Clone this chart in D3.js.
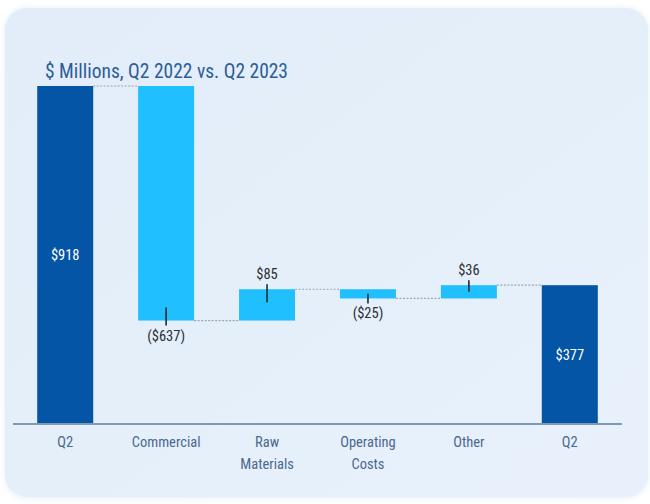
<!DOCTYPE html>
<html>
<head>
<meta charset="utf-8">
<script src="https://cdn.jsdelivr.net/npm/d3@7/dist/d3.min.js"></script>
<style>
  html, body { margin: 0; padding: 0; background: #ffffff; }
  svg { display: block; }
</style>
</head>
<body>
<svg id="chart" width="650" height="504"></svg>
<script>
// Waterfall bridge: Q2 2022 to Q2 2023, $ millions
const categories = ["Q2", "Commercial", "Raw\nMaterials", "Operating\nCosts", "Other", "Q2"];
const values = [918, -637, 85, -25, 36, 377];
const kinds = ["total", "delta", "delta", "delta", "delta", "total"];
const valueLabels = ["$918", "($637)", "$85", "($25)", "$36", "$377"];
const titleText = "$ Millions, Q2 2022 vs. Q2 2023";

const svg = d3.select("#chart");
const font = "'Liberation Sans Narrow', 'Roboto Condensed', 'Liberation Sans', sans-serif";

// background panel
const defs = svg.append("defs");
const grad = defs.append("linearGradient").attr("id", "panelGrad")
  .attr("x1", "0").attr("y1", "0").attr("x2", "1").attr("y2", "1");
grad.append("stop").attr("offset", "0").attr("stop-color", "#e2edf9");
grad.append("stop").attr("offset", "1").attr("stop-color", "#e8f1fb");
const blur = defs.append("filter").attr("id", "soft").attr("x", "-5%").attr("y", "-5%")
  .attr("width", "110%").attr("height", "110%");
blur.append("feGaussianBlur").attr("stdDeviation", 3);

svg.append("rect").attr("x", 5).attr("y", 8).attr("width", 643).attr("height", 490)
  .attr("rx", 22).attr("fill", "#d6e2ee").attr("filter", "url(#soft)").attr("opacity", 0.6);
svg.append("rect").attr("x", 5).attr("y", 8).attr("width", 643).attr("height", 489)
  .attr("rx", 22).attr("fill", "url(#panelGrad)");

// running start/end for each bar
let running = 0;
const bars = values.map((v, i) => {
  let y0, y1;
  if (kinds[i] === "total") { y0 = 0; y1 = v; running = v; }
  else { y0 = running; y1 = running + v; running = y1; }
  return { i, cat: categories[i], v, y0, y1, kind: kinds[i], label: valueLabels[i] };
});

const x = d3.scaleBand().domain(d3.range(categories.length))
  .range([15, 620]).paddingInner(0.445).paddingOuter(0.22);
const y = d3.scaleLinear().domain([0, 918]).range([424, 86]);

const g = svg.append("g");

// connectors
bars.slice(0, -1).forEach((b, k) => {
  const nb = bars[k + 1];
  g.append("line")
    .attr("x1", x(b.i) + x.bandwidth()).attr("x2", x(nb.i))
    .attr("y1", y(b.y1)).attr("y2", y(b.y1))
    .attr("stroke", "#9aa7b4").attr("stroke-width", 1.2)
    .attr("stroke-dasharray", "2,1.5");
});

// bars
g.selectAll("rect.bar").data(bars).enter().append("rect")
  .attr("class", "bar")
  .attr("x", d => x(d.i))
  .attr("width", x.bandwidth())
  .attr("y", d => y(Math.max(d.y0, d.y1)))
  .attr("height", d => Math.abs(y(d.y0) - y(d.y1)))
  .attr("fill", d => d.kind === "total" ? "#0455a6" : "#20bffd");

// end ticks on change bars
bars.filter(d => d.kind === "delta").forEach(d => {
  const dir = d.v >= 0 ? -1 : 1;
  const yEnd = y(d.y1);
  const h = Math.abs(y(d.y0) - y(d.y1));
  const inside = Math.min(13, h * 0.5);
  const cx = x(d.i) + x.bandwidth() / 2;
  g.append("line").attr("x1", cx).attr("x2", cx)
    .attr("y1", yEnd - dir * inside).attr("y2", yEnd + dir * 5)
    .attr("stroke", "#1d2a36").attr("stroke-width", 1.6);
});

// value labels
g.selectAll("text.val").data(bars).enter().append("text")
  .attr("class", "val")
  .attr("x", d => x(d.i) + x.bandwidth() / 2)
  .attr("y", d => {
    if (d.kind === "total") return (y(0) + y(d.y1)) / 2 + 5;
    return d.v >= 0 ? y(d.y1) - 10 : y(d.y1) + 20;
  })
  .attr("text-anchor", "middle")
  .attr("font-family", font).attr("font-size", 14.5)
  .attr("fill", d => d.kind === "total" ? "#ffffff" : "#2b2f36")
  .text(d => d.label);

// axis
const axis = d3.axisBottom(x).tickSize(0).tickFormat("");
const ax = svg.append("g").attr("transform", "translate(0,424)").call(axis);
ax.select(".domain").remove();
svg.append("line").attr("x1", 13).attr("x2", 622).attr("y1", 424).attr("y2", 424)
  .attr("stroke", "#7f9ab5").attr("stroke-width", 2);

ax.selectAll(".tick").each(function(d) {
  const lines = categories[d].split("\n");
  const t = d3.select(this).append("text")
    .attr("y", 23).attr("text-anchor", "middle")
    .attr("font-family", font).attr("font-size", 14.5).attr("fill", "#4a6890");
  lines.forEach((ln, k) => {
    t.append("tspan").attr("x", 0).attr("dy", k === 0 ? 0 : 22).text(ln);
  });
});

// title
svg.append("text").attr("x", 45).attr("y", 78)
  .attr("font-family", font).attr("font-size", 21).attr("fill", "#2c5d99")
  .attr("textLength", 243).attr("lengthAdjust", "spacingAndGlyphs")
  .text(titleText);
</script>
</body>
</html>
